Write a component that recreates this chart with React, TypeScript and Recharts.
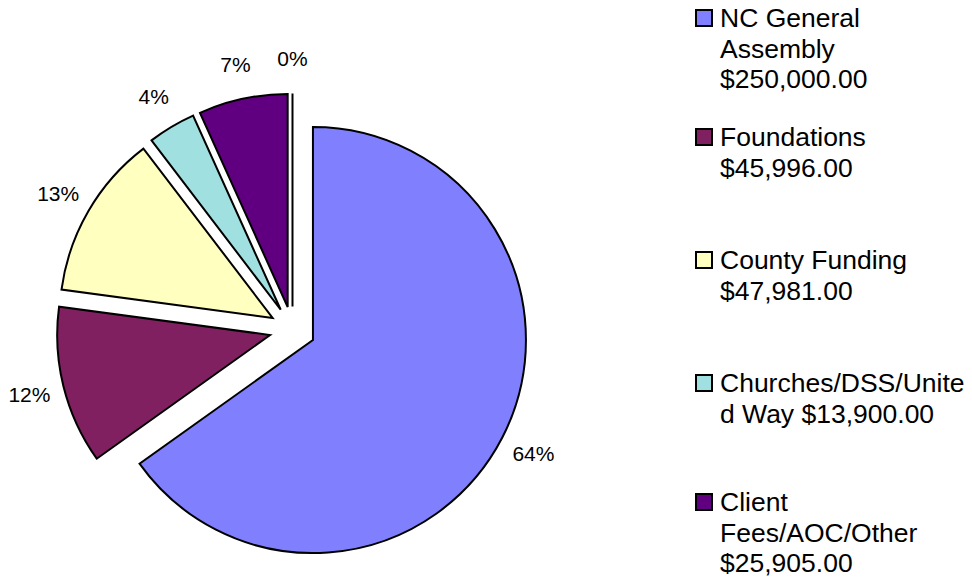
import React from 'react';
import { PieChart, Pie, Cell, Legend } from 'recharts';

// funding sources, clockwise from 12 o'clock
const sources = [
  'NC General Assembly',
  'Foundations',
  'County Funding',
  'Churches/DSS/United Way',
  'Client Fees/AOC/Other',
  'Other',
];
const amounts = [250000, 45996, 47981, 13900, 25905, 0];
const pctLabels = ['64%', '12%', '13%', '4%', '7%', '0%'];

// legend text as it wraps in the original
const legendLines = [
  ['NC General', 'Assembly', '$250,000.00'],
  ['Foundations', '$45,996.00'],
  ['County Funding', '$47,981.00'],
  ['Churches/DSS/Unite', 'd Way $13,900.00'],
  ['Client', 'Fees/AOC/Other', '$25,905.00'],
];
const legendTops = [3, 122, 245, 368, 487];

const COLORS = ['#8080FF', '#802060', '#FFFFC0', '#A0E0E0', '#600080', '#FF8080'];

const data = sources.map((name, i) => ({ name, value: amounts[i] }));

const EXPLODE = 23;
const RAD = Math.PI / 180;
const FONT = 'Arial, "Liberation Sans", sans-serif';

const explodedCenter = (cx: number, cy: number, mid: number) => [
  cx + EXPLODE * Math.cos(-mid * RAD),
  cy + EXPLODE * Math.sin(-mid * RAD),
];

const ExplodedSlice = (props: any) => {
  const { cx, cy, outerRadius, startAngle, endAngle, midAngle, fill } = props;
  const [ox, oy] = explodedCenter(cx, cy, midAngle);
  const pt = (a: number) => [ox + outerRadius * Math.cos(-a * RAD), oy + outerRadius * Math.sin(-a * RAD)];
  const [x1, y1] = pt(startAngle);
  const [x2, y2] = pt(endAngle);
  const delta = Math.abs(endAngle - startAngle);
  if (delta < 0.01) {
    return <path d={`M${ox},${oy}L${x1},${y1}`} stroke="#000" strokeWidth={2} fill="none" />;
  }
  const large = delta > 180 ? 1 : 0;
  const sweep = startAngle > endAngle ? 1 : 0;
  const d = `M${ox},${oy}L${x1},${y1}A${outerRadius},${outerRadius},0,${large},${sweep},${x2},${y2}Z`;
  return <path d={d} fill={fill} stroke="#000" strokeWidth={2} strokeLinejoin="miter" />;
};

const renderLabel = (props: any) => {
  const { cx, cy, midAngle, outerRadius, index } = props;
  const [ox, oy] = explodedCenter(cx, cy, midAngle);
  const r = outerRadius + 35;
  const x = ox + r * Math.cos(-midAngle * RAD);
  const y = oy + r * Math.sin(-midAngle * RAD);
  return (
    <text x={x} y={y} textAnchor="middle" dominantBaseline="central" fontSize={21} fontFamily={FONT} fill="#000">
      {pctLabels[index]}
    </text>
  );
};

const renderLegend = () => (
  <div style={{ position: 'relative', width: 282, height: 577, fontFamily: FONT }}>
    {legendLines.map((lines, i) => (
      <div key={i} style={{ position: 'absolute', left: 0, top: legendTops[i] }}>
        <div
          style={{
            position: 'absolute',
            left: 5,
            top: 6,
            width: 18,
            height: 18,
            boxSizing: 'border-box',
            border: '2px solid #000',
            background: COLORS[i],
          }}
        />
        <div style={{ position: 'absolute', left: 30, top: 0, fontSize: 26.5, lineHeight: '30.5px', color: '#000', whiteSpace: 'nowrap' }}>
          {lines.map((line, j) => (
            <div key={j}>{line}</div>
          ))}
        </div>
      </div>
    ))}
  </div>
);

export default function App() {
  return (
    <div style={{ position: 'absolute', left: 0, top: 0, width: 972, height: 577, background: '#fff' }}>
      <PieChart width={972} height={577} margin={{ top: 0, right: 0, bottom: 0, left: 0 }}>
        <Pie
          data={data}
          dataKey="value"
          nameKey="name"
          cx={292.5}
          cy={329.5}
          outerRadius={213}
          startAngle={90}
          endAngle={-270}
          stroke="none"
          shape={ExplodedSlice}
          label={renderLabel}
          labelLine={false}
          isAnimationActive={false}
        >
          {data.map((d, i) => (
            <Cell key={d.name} fill={COLORS[i]} />
          ))}
        </Pie>
        <Legend
          layout="vertical"
          align="right"
          verticalAlign="top"
          content={renderLegend}
          wrapperStyle={{ left: 690, top: 0, width: 282, height: 577 }}
        />
      </PieChart>
    </div>
  );
}
